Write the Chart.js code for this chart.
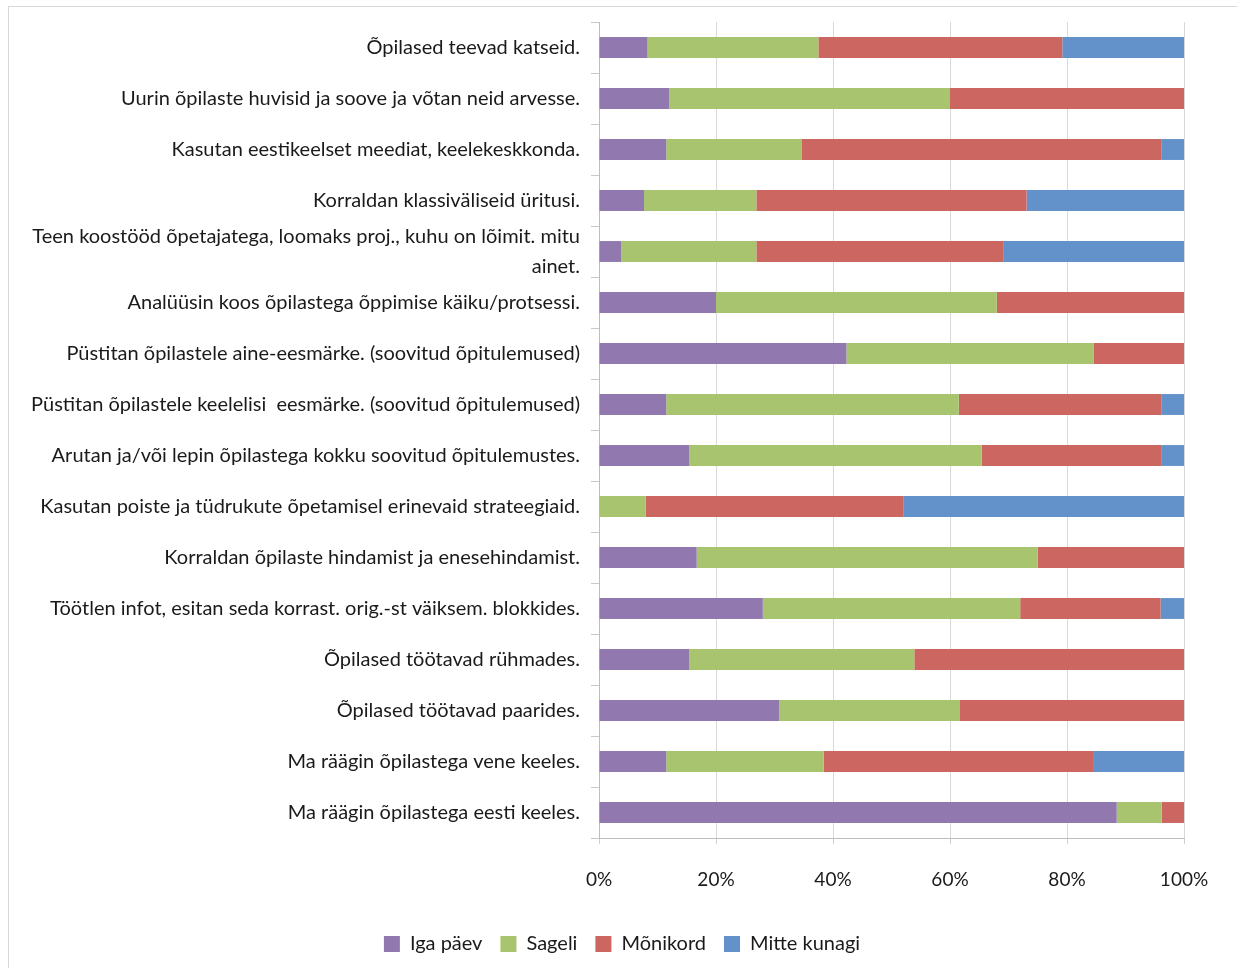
<!DOCTYPE html>
<html>
<head>
<meta charset="utf-8">
<script src="https://cdn.jsdelivr.net/npm/chart.js@4/dist/chart.umd.min.js"></script>
<style>
  html, body { margin: 0; padding: 0; background: #fff; }
  #frame { position: absolute; left: 8px; top: 6px; width: 1240px; height: 970px; border: 1px solid #d8d8d8; }
  #chart { position: absolute; left: 0; top: 0; }
</style>
</head>
<body>
<div id="frame"></div>
<canvas id="chart" width="1237" height="968"></canvas>
<script>
// survey statements (top to bottom)
const categories = [
    "Õpilased teevad katseid.",
    "Uurin õpilaste huvisid ja soove ja võtan neid arvesse.",
    "Kasutan eestikeelset meediat, keelekeskkonda.",
    "Korraldan klassiväliseid üritusi.",
    ["Teen koostööd õpetajatega, loomaks proj., kuhu on lõimit. mitu", "ainet."],
    "Analüüsin koos õpilastega õppimise käiku/protsessi.",
    "Püstitan õpilastele aine-eesmärke. (soovitud õpitulemused)",
    "Püstitan õpilastele keelelisi  eesmärke. (soovitud õpitulemused)",
    "Arutan ja/või lepin õpilastega kokku soovitud õpitulemustes.",
    "Kasutan poiste ja tüdrukute õpetamisel erinevaid strateegiaid.",
    "Korraldan õpilaste hindamist ja enesehindamist.",
    "Töötlen infot, esitan seda korrast. orig.-st väiksem. blokkides.",
    "Õpilased töötavad rühmades.",
    "Õpilased töötavad paarides.",
    "Ma räägin õpilastega vene keeles.",
    "Ma räägin õpilastega eesti keeles."
];

// shares in percent
const igaPaev     = [8.3, 12, 11.5, 7.7, 3.8, 20, 42.3, 11.5, 15.4, 0, 16.7, 28, 15.4, 30.8, 11.5, 88.5];
const sageli      = [29.2, 48, 23.1, 19.2, 23.1, 48, 42.3, 50, 50, 8, 58.3, 44, 38.5, 30.8, 26.9, 7.7];
const monikord    = [41.7, 40, 61.5, 46.2, 42.3, 32, 15.4, 34.6, 30.8, 44, 25, 24, 46.2, 38.5, 46.2, 3.8];
const mitteKunagi = [20.8, 0, 3.9, 26.9, 30.8, 0, 0, 3.9, 3.8, 48, 0, 4, 0, 0, 15.4, 0];

const xTicks = [0, 20, 40, 60, 80, 100];

const textColor = "#1a1a1a";
const fontFamily = "Lato, 'Open Sans', sans-serif";

// legend is centred on the whole frame, not on the plot
const shiftLegend = {
    id: "shiftLegend",
    afterLayout(chart) {
        chart.legend.left += 26;
        chart.legend.right += 26;
    }
};

new Chart(document.getElementById("chart"), {
    type: "bar",
    data: {
        labels: categories,
        datasets: [
            { label: "Iga päev", data: igaPaev, backgroundColor: "#9179b0" },
            { label: "Sageli", data: sageli, backgroundColor: "#a8c46e" },
            { label: "Mõnikord", data: monikord, backgroundColor: "#cc6660" },
            { label: "Mitte kunagi", data: mitteKunagi, backgroundColor: "#6392ca" }
        ]
    },
    options: {
        indexAxis: "y",
        responsive: false,
        animation: false,
        devicePixelRatio: 1,
        datasets: {
            bar: { categoryPercentage: 1, barPercentage: 0.41 }
        },
        layout: { padding: { top: 22, right: 53, bottom: 4, left: 8 } },
        scales: {
            x: {
                stacked: true,
                min: 0,
                max: 100,
                afterBuildTicks: (s) => { s.ticks = xTicks.map(v => ({ value: v })); },
                afterFit: (s) => { s.height = 78; },
                grid: { color: "#d9d9d9", tickLength: 6, tickColor: "#d0d0d0" },
                border: { color: "#bdbdbd" },
                ticks: {
                    padding: 24,
                    color: textColor,
                    font: { family: fontFamily, size: 19 },
                    callback: (v) => v + "%"
                }
            },
            y: {
                stacked: true,
                afterFit: (s) => {
                    s.width = 591;
                    s.paddingTop = 0;
                    s.paddingBottom = 0;
                },
                grid: { drawOnChartArea: false, tickLength: 8, tickColor: "#c8c8c8" },
                border: { color: "#bdbdbd" },
                ticks: {
                    autoSkip: false,
                    padding: 11,
                    color: textColor,
                    font: { family: fontFamily, size: 20, lineHeight: 1.5 }
                }
            }
        },
        plugins: {
            legend: {
                position: "bottom",
                labels: {
                    color: textColor,
                    font: { family: fontFamily, size: 20 },
                    boxWidth: 16,
                    boxHeight: 16,
                    padding: 18
                }
            },
            tooltip: { enabled: false }
        }
    },
    plugins: [shiftLegend]
});
</script>
</body>
</html>
